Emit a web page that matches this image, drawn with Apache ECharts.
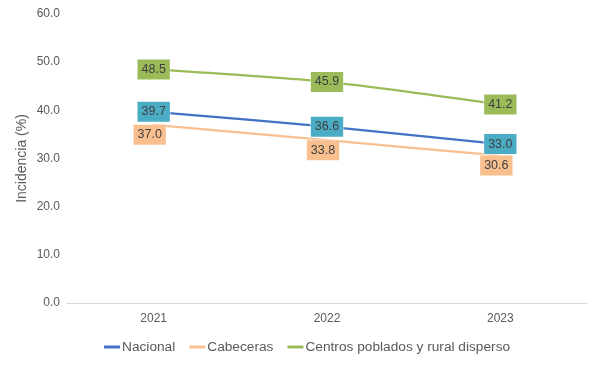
<!DOCTYPE html>
<html><head><meta charset="utf-8">
<script src="https://cdn.jsdelivr.net/npm/echarts@6/dist/echarts.min.js"></script>
<style>html,body{margin:0;padding:0;background:#fff}#c{width:600px;height:368px}</style>
</head><body><div id="c"></div>
<script>
const years = ['2021', '2022', '2023'];
const nacional = [39.7, 36.6, 33.0];
const cabeceras = [37.0, 33.8, 30.6];
const centros = [48.5, 45.9, 41.2];
const seriesNames = ['Nacional', 'Cabeceras', 'Centros poblados y rural disperso'];
const yTicks = [0, 10, 20, 30, 40, 50, 60];

const FONT = 'Liberation Sans, Arial, sans-serif';
function lbl(bg, offset) {
  return {
    show: true, position: 'inside', offset: offset,
    formatter: p => p.value.toFixed(1),
    backgroundColor: bg, borderColor: 'rgba(255,255,255,0.45)', borderWidth: 1,
    padding: [3, 4, 3, 4], color: '#404040', fontSize: 12.5, fontFamily: FONT,
    lineHeight: 14
  };
}
const chart = echarts.init(document.getElementById('c'), null, {renderer: 'canvas'});
chart.setOption({
  animation: false,
  grid: {left: 67, right: 13, top: 14, bottom: 65},
  legend: {
    bottom: 9, left: 99, itemWidth: 16, itemHeight: 3, itemGap: 14,
    icon: 'rect',
    textStyle: {color: '#595959', fontSize: 13.7, fontFamily: FONT, padding: [0, 0, 0, -3]},
    data: seriesNames
  },
  xAxis: {
    type: 'category', data: years, boundaryGap: true,
    axisLine: {lineStyle: {color: '#d9d9d9', width: 1}},
    axisTick: {show: false},
    axisLabel: {color: '#595959', fontSize: 12, fontFamily: FONT, margin: 10}
  },
  yAxis: {
    type: 'value', min: 0, max: 60, interval: 10,
    name: 'Incidencia (%)', nameLocation: 'middle', nameGap: 38, nameMoveOverlap: false,
    nameTextStyle: {color: '#595959', fontSize: 14, fontFamily: FONT},
    splitLine: {show: false}, axisLine: {show: false}, axisTick: {show: false},
    axisLabel: {color: '#595959', fontSize: 12, fontFamily: FONT, margin: 7,
      formatter: v => yTicks.includes(v) ? v.toFixed(1) : ''}
  },
  series: [
    {name: seriesNames[0], type: 'line', data: nacional, smooth: 0.25, symbol: 'circle', symbolSize: 0, showSymbol: true,
     lineStyle: {color: '#4472c4', width: 2.25}, itemStyle: {color: '#4472c4'},
     label: lbl('#4bacc6', [0, 0]), z: 3},
    {name: seriesNames[1], type: 'line', data: cabeceras, smooth: 0.25, symbol: 'circle', symbolSize: 0, showSymbol: true,
     lineStyle: {color: '#f8c090', width: 2.25}, itemStyle: {color: '#f8c090'},
     label: lbl('#f9bf8f', [-4, 10]), z: 2},
    {name: seriesNames[2], type: 'line', data: centros, smooth: 0.25, symbol: 'circle', symbolSize: 0, showSymbol: true,
     lineStyle: {color: '#9bbb59', width: 2.25}, itemStyle: {color: '#9bbb59'},
     label: lbl('#9bbb59', [0, 0]), z: 2}
  ]
});
</script></body></html>
